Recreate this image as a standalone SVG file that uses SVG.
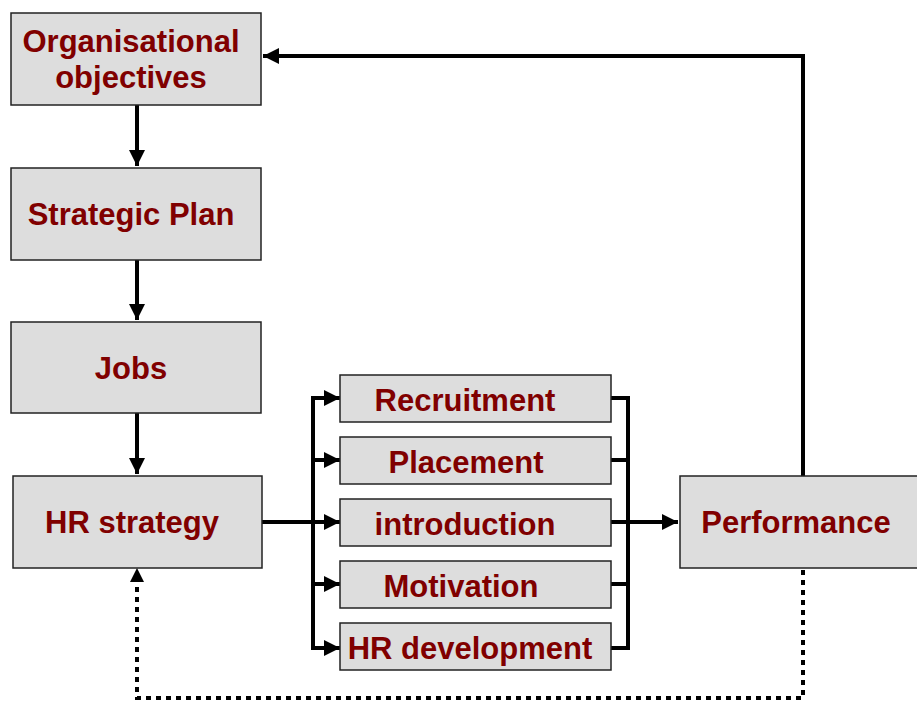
<svg xmlns="http://www.w3.org/2000/svg" width="917" height="702" viewBox="0 0 917 702">
<defs>
<style>
.box{fill:#dddddd;stroke:#222;stroke-width:1.5}
.t{font-family:"Liberation Sans",Arial,sans-serif;font-weight:bold;font-size:31px;fill:#800000;text-anchor:middle}
.ln{fill:none;stroke:#000;stroke-width:4}
.dot{fill:none;stroke:#000;stroke-width:4;stroke-dasharray:5 5}
</style>
<marker id="ah" viewBox="0 0 10 10" refX="10" refY="5" markerWidth="4" markerHeight="4" markerUnits="strokeWidth" orient="auto"><path d="M0,0 L10,5 L0,10 z" fill="#000"/></marker>
</defs>
<rect width="917" height="702" fill="#fff"/>
<g id="connectors">
<line class="ln" x1="137" y1="105" x2="137" y2="166" marker-end="url(#ah)"/>
<line class="ln" x1="137" y1="260" x2="137" y2="320" marker-end="url(#ah)"/>
<line class="ln" x1="137" y1="413" x2="137" y2="474" marker-end="url(#ah)"/>
<polyline class="ln" points="803,476 803,56 263,56" marker-end="url(#ah)"/>
<line class="ln" x1="262" y1="522" x2="313" y2="522"/>
<line class="ln" x1="313" y1="396" x2="313" y2="650"/>
<line class="ln" x1="311" y1="398" x2="340" y2="398" marker-end="url(#ah)"/>
<line class="ln" x1="313" y1="460" x2="340" y2="460" marker-end="url(#ah)"/>
<line class="ln" x1="313" y1="522" x2="340" y2="522" marker-end="url(#ah)"/>
<line class="ln" x1="313" y1="584" x2="340" y2="584" marker-end="url(#ah)"/>
<line class="ln" x1="311" y1="648" x2="340" y2="648" marker-end="url(#ah)"/>
<polyline class="ln" points="611,398 628,398 628,648 611,648"/>
<line class="ln" x1="611" y1="460" x2="628" y2="460"/>
<line class="ln" x1="611" y1="522" x2="678" y2="522" marker-end="url(#ah)"/>
<line class="ln" x1="611" y1="584" x2="628" y2="584"/>
<polyline class="dot" points="803,570 803,698 137,698 137,580"/>
<path d="M130,582 L137,568 L144,582 z" fill="#000"/>
</g>
<g id="org"><rect class="box" x="11" y="13" width="250" height="92"/><text class="t" x="131" y="52">Organisational</text><text class="t" x="131" y="88">objectives</text></g>
<g id="strategic"><rect class="box" x="11" y="168" width="250" height="92"/><text class="t" x="131" y="225">Strategic Plan</text></g>
<g id="jobs"><rect class="box" x="11" y="322" width="250" height="91"/><text class="t" x="131" y="379">Jobs</text></g>
<g id="hrstrategy"><rect class="box" x="13" y="476" width="249" height="92"/><text class="t" x="132" y="533">HR strategy</text></g>
<g id="performance"><rect class="box" x="680" y="476" width="245" height="92"/><text class="t" x="796" y="533">Performance</text></g>
<g id="recruitment"><rect class="box" x="340" y="375" width="271" height="47"/><text class="t" x="465" y="411">Recruitment</text></g>
<g id="placement"><rect class="box" x="340" y="437" width="271" height="47"/><text class="t" x="466" y="473">Placement</text></g>
<g id="introduction"><rect class="box" x="340" y="499" width="271" height="47"/><text class="t" x="465" y="535">introduction</text></g>
<g id="motivation"><rect class="box" x="340" y="561" width="271" height="47"/><text class="t" x="461" y="597">Motivation</text></g>
<g id="hrdev"><rect class="box" x="340" y="623" width="271" height="47"/><text class="t" x="470" y="659">HR development</text></g>
</svg>
